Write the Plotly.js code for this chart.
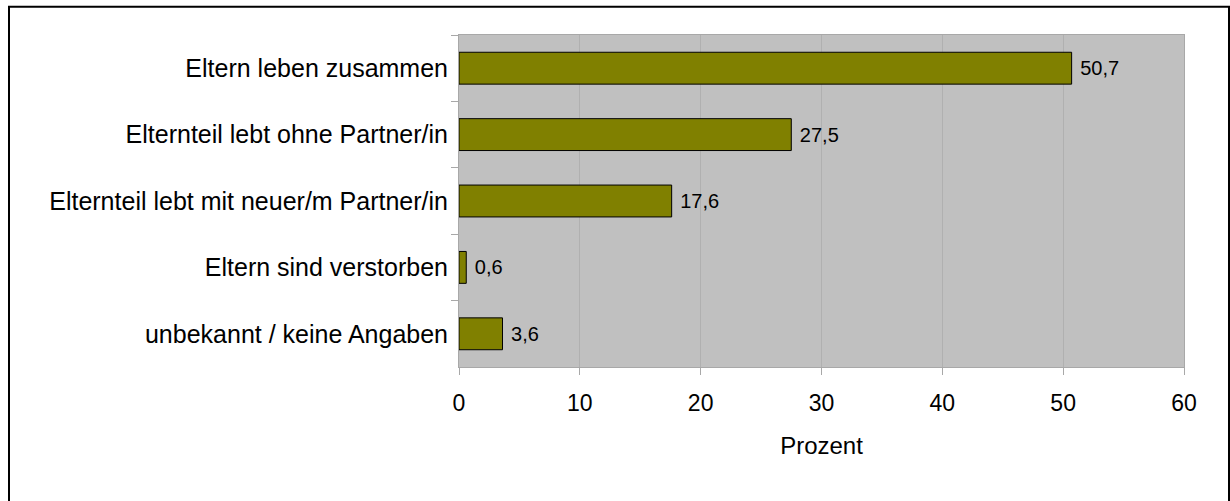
<!DOCTYPE html>
<html>
<head>
<meta charset="utf-8">
<script src="https://cdn.plot.ly/plotly-3.0.1.min.js"></script>
<style>
html,body{margin:0;padding:0;background:#fff;}
#chart{width:1230px;height:501px;}
</style>
</head>
<body>
<div id="chart"></div>
<script>
var categories = [
  "Eltern leben zusammen",
  "Elternteil lebt ohne Partner/in",
  "Elternteil lebt mit neuer/m Partner/in",
  "Eltern sind verstorben",
  "unbekannt / keine Angaben"
];
var values = [50.7, 27.5, 17.6, 0.6, 3.6];
var xTicks = [0, 10, 20, 30, 40, 50, 60];
var xTitle = "Prozent";

var W = 1230, H = 501;
var mL = 459, mR = W - 1184, mT = 35, mB = H - 367;
var pw = W - mL - mR, ph = H - mT - mB;
function px2x(p){ return (p - mL) / pw; }
function py2y(p){ return (H - mB - p) / ph; }

var trace = {
  type: "bar",
  orientation: "h",
  y: categories,
  x: values,
  marker: {color: "#808000", line: {color: "#000000", width: 1}},
  texttemplate: " %{x:.1f}",
  textposition: "outside",
  cliponaxis: false,
  textfont: {family: "Liberation Sans, Arial, sans-serif", size: 20, color: "#000"},
  hoverinfo: "none"
};

var layout = {
  width: W, height: H,
  separators: ",.",
  margin: {l: mL, r: mR, t: mT, b: mB, pad: 0},
  paper_bgcolor: "#ffffff",
  plot_bgcolor: "#c0c0c0",
  bargap: 0.52,
  showlegend: false,
  font: {family: "Liberation Sans, Arial, sans-serif", color: "#000"},
  xaxis: {
    range: [0, 60],
    tickvals: xTicks,
    ticktext: xTicks.map(String),
    showgrid: true,
    gridcolor: "#b0b0b0",
    gridwidth: 1,
    zeroline: false,
    showline: true,
    linecolor: "#a8a8a8",
    linewidth: 1,
    mirror: true,
    ticks: "outside",
    ticklen: 7,
    tickcolor: "#a8a8a8",
    tickfont: {size: 23, color: "#000"},
    ticklabelstandoff: 8,
    title: {text: xTitle, font: {size: 24, color: "#000"}, standoff: 22}
  },
  yaxis: {
    autorange: "reversed",
    showgrid: false,
    zeroline: false,
    showline: true,
    linecolor: "#a8a8a8",
    linewidth: 1,
    mirror: true,
    ticks: "outside",
    ticklen: 7,
    tickcolor: "#a8a8a8",
    tickson: "boundaries",
    tickfont: {size: 25, color: "#000"},
    ticklabelstandoff: 5
  },
  shapes: [{
    type: "rect", xref: "paper", yref: "paper",
    x0: px2x(9), x1: px2x(1229), y0: py2y(540), y1: py2y(6.7),
    line: {color: "#000", width: 2}, fillcolor: "rgba(0,0,0,0)", layer: "above"
  }]
};

Plotly.newPlot("chart", [trace], layout, {displayModeBar: false, staticPlot: true});
</script>
</body>
</html>
